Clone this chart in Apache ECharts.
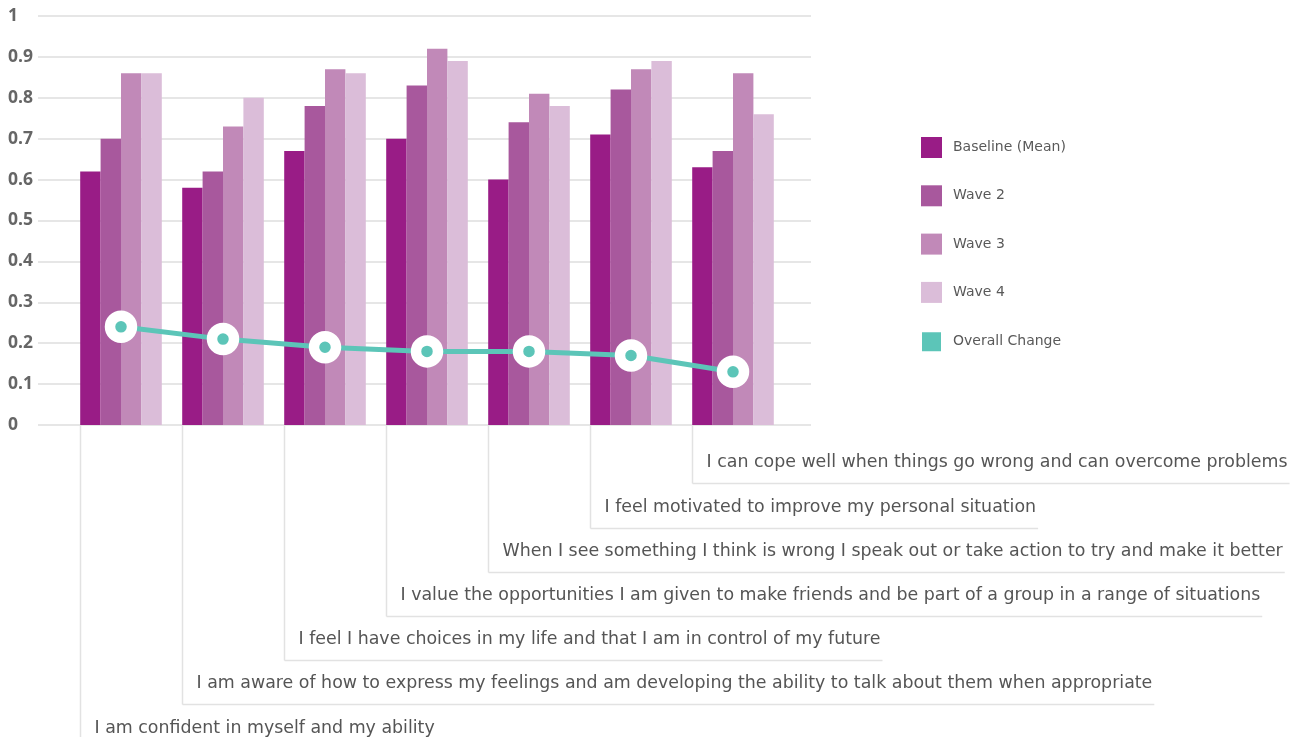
<!DOCTYPE html>
<html>
<head>
<meta charset="utf-8">
<script src="https://cdn.jsdelivr.net/npm/echarts@6/dist/echarts.min.js"></script>
<style>
html,body{margin:0;padding:0;background:#fff;}
#chart{width:1308px;height:737px;}
</style>
</head>
<body>
<div id="chart"></div>
<script>
const categories = [
  "I am confident in myself and my ability",
  "I am aware of how to express my feelings and am developing the ability to talk about them when appropriate",
  "I feel I have choices in my life and that I am in control of my future",
  "I value the opportunities I am given to make friends and be part of a group in a range of situations",
  "When I see something I think is wrong I speak out or take action to try and make it better",
  "I feel motivated to improve my personal situation",
  "I can cope well when things go wrong and can overcome problems"
];
const baseline = [0.62, 0.58, 0.67, 0.70, 0.60, 0.71, 0.63];
const wave2    = [0.70, 0.62, 0.78, 0.83, 0.74, 0.82, 0.67];
const wave3    = [0.86, 0.73, 0.87, 0.92, 0.81, 0.87, 0.86];
const wave4    = [0.86, 0.80, 0.86, 0.89, 0.78, 0.89, 0.76];
const overallChange = [0.24, 0.21, 0.19, 0.18, 0.18, 0.17, 0.13];
const seriesNames = ["Baseline (Mean)", "Wave 2", "Wave 3", "Wave 4", "Overall Change"];

const colors = ["#991c86", "#a8589d", "#c189b8", "#dbbdd9", "#5cc5b8"];
const FONT = "'Open Sans', 'Noto Sans', sans-serif";
const LFONT = "'DejaVu Sans', sans-serif";
const labelFontSize = 17.4;

const chart = echarts.init(document.getElementById('chart'), null, {renderer: 'canvas'});

function barSeries(name, data, color) {
  return {
    name: name, type: 'bar', xAxisIndex: 1, yAxisIndex: 1,
    data: data, barGap: '0%', barCategoryGap: '20%',
    itemStyle: {color: color}, emphasis: {disabled: true}, z: 2
  };
}

chart.setOption({
  animation: false,
  textStyle: {fontFamily: FONT},
  grid: [
    {left: 38, right: 497, top: 16, bottom: 312},
    {left: 70, right: 524, top: 16, bottom: 312}
  ],
  legend: {
    orient: 'vertical', left: 920, top: 137, padding: 0,
    itemWidth: 21, itemHeight: 21, itemGap: 27.3,
    icon: 'rect',
    data: seriesNames,
    textStyle: {fontFamily: LFONT, fontSize: 14, color: '#595959', padding: [0, 0, 0, 6]}
  },
  xAxis: [
    {type: 'value', gridIndex: 0, show: false, min: 0, max: 1},
    {type: 'category', gridIndex: 1, data: categories,
     axisLine: {show: false}, axisTick: {show: false}, axisLabel: {show: false}, splitLine: {show: false}}
  ],
  yAxis: [
    {type: 'value', gridIndex: 0, min: 0, max: 1, interval: 0.1,
     axisLine: {show: false}, axisTick: {show: false},
     splitLine: {show: true, lineStyle: {color: '#e6e6e6', width: 2}},
     axisLabel: {
       align: 'left', margin: 30, color: '#666', fontWeight: 'bold', fontSize: 17.5, fontFamily: FONT,
       formatter: function (v) { return (v === 0 || v === 1) ? String(v) : v.toFixed(1); }
     }},
    {type: 'value', gridIndex: 1, min: 0, max: 1, interval: 0.1, show: false, splitLine: {show: false}}
  ],
  series: [
    barSeries(seriesNames[0], baseline, colors[0]),
    barSeries(seriesNames[1], wave2, colors[1]),
    barSeries(seriesNames[2], wave3, colors[2]),
    barSeries(seriesNames[3], wave4, colors[3]),
    {
      name: seriesNames[4], type: 'line', xAxisIndex: 1, yAxisIndex: 1,
      data: overallChange, color: colors[4],
      lineStyle: {color: colors[4], width: 5},
      symbol: 'circle', symbolSize: 22,
      itemStyle: {color: colors[4], borderColor: '#fff', borderWidth: 10.5},
      emphasis: {disabled: true}, z: 5
    }
  ]
});

// Category leader labels, positioned from the axis scale
const ctx = document.createElement('canvas').getContext('2d');
ctx.font = labelFontSize + 'px ' + LFONT;
const c0 = chart.convertToPixel({xAxisIndex: 1}, 0);
const c1 = chart.convertToPixel({xAxisIndex: 1}, 1);
const catW = c1 - c0;
const y0 = chart.convertToPixel({yAxisIndex: 1}, 0);
const elements = [];
const lineStyle = {stroke: '#e2e2e2', lineWidth: 1.5};
categories.forEach(function (name, i) {
  const cx = chart.convertToPixel({xAxisIndex: 1}, i);
  const x0 = Math.round(cx - catW * 0.4) + 0.5;
  const rowY = 726 - i * 44.2;
  const lineY = Math.round(rowY + 22.5) + 0.5;
  const tw = ctx.measureText(name).width;
  elements.push({
    type: 'line', silent: true,
    shape: {x1: x0, y1: y0, x2: x0, y2: i === 0 ? 737 : lineY},
    style: lineStyle
  });
  if (i > 0) {
    elements.push({
      type: 'line', silent: true,
      shape: {x1: x0, y1: lineY, x2: x0 + 14 + tw + 2, y2: lineY},
      style: lineStyle
    });
  }
  elements.push({
    type: 'text', silent: true, x: x0 + 14, y: rowY + 2,
    style: {text: name, fill: '#555', font: labelFontSize + 'px ' + LFONT, textVerticalAlign: 'middle', textAlign: 'left'}
  });
});
chart.setOption({graphic: elements});
</script>
</body>
</html>
